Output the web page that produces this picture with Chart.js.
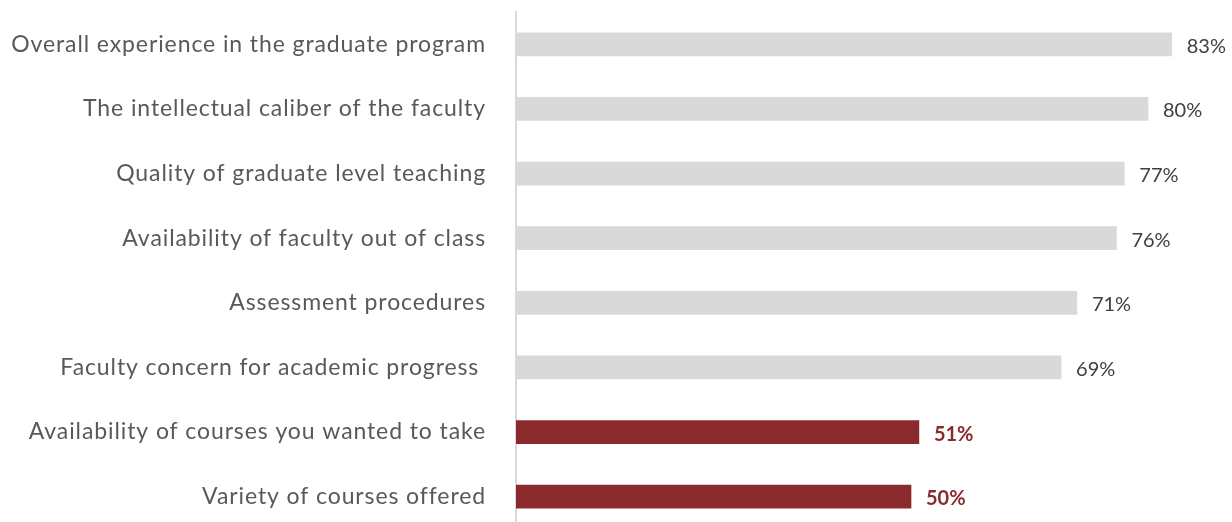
<!DOCTYPE html>
<html>
<head>
<meta charset="utf-8">
<script src="https://cdn.jsdelivr.net/npm/chart.js@4.4.1/dist/chart.umd.min.js"></script>
<style>
  html, body { margin: 0; padding: 0; background: #ffffff; overflow: hidden; }
  #wrap { position: relative; width: 1232px; height: 529px; }
</style>
</head>
<body>
<div id="wrap"><canvas id="c" width="1232" height="529"></canvas></div>
<script>
const categories = [
  "Overall experience in the graduate program",
  "The intellectual caliber of the faculty",
  "Quality of graduate level teaching",
  "Availability of faculty out of class",
  "Assessment procedures",
  "Faculty concern for academic progress ",
  "Availability of courses you wanted to take",
  "Variety of courses offered"
];
const values = [83, 80, 77, 76, 71, 69, 51, 50];
const highlighted = [false, false, false, false, false, false, true, true];

const GRAY = "#d9d9d9";
const RED = "#8b2a2c";
const TEXT = "#595959";
const FONT = "Lato, 'Open Sans', sans-serif";

const labelSpacing = {
  id: "labelSpacing",
  beforeDraw(chart) { chart.ctx.letterSpacing = "0.9px"; },
  beforeDatasetsDraw(chart) { chart.ctx.letterSpacing = "0px"; }
};

const valueLabels = {
  id: "valueLabels",
  afterDatasetsDraw(chart) {
    const ctx = chart.ctx;
    const meta = chart.getDatasetMeta(0);
    ctx.save();
    ctx.letterSpacing = "0px";
    ctx.textBaseline = "middle";
    ctx.textAlign = "left";
    meta.data.forEach((bar, i) => {
      const hi = highlighted[i];
      ctx.font = (hi ? "bold " : "") + "20px " + FONT;
      ctx.fillStyle = hi ? RED : "#404040";
      ctx.fillText(values[i] + "%", bar.x + 15, bar.y + 2);
    });
    ctx.restore();
  }
};

new Chart(document.getElementById("c"), {
  type: "bar",
  data: {
    labels: categories,
    datasets: [{
      data: values,
      backgroundColor: highlighted.map(h => h ? RED : GRAY),
      borderWidth: 0,
      barThickness: 23
    }]
  },
  options: {
    indexAxis: "y",
    responsive: false,
    animation: false,
    layout: { padding: { top: 12, right: 5, bottom: 0, left: 0 } },
    plugins: { legend: { display: false }, tooltip: { enabled: false } },
    scales: {
      x: {
        min: 0, max: 90,
        display: false,
        grid: { display: false }
      },
      y: {
        afterFit(scale) {
          scale.width = 516;
          scale.paddingTop = 0;
          scale.paddingBottom = 0;
        },
        grid: { display: false, drawTicks: false },
        border: { display: true, color: "#d9d9d9", width: 2 },
        ticks: {
          padding: 30,
          color: TEXT,
          font: { family: FONT, size: 23 }
        }
      }
    }
  },
  plugins: [labelSpacing, valueLabels]
});
</script>
</body>
</html>
